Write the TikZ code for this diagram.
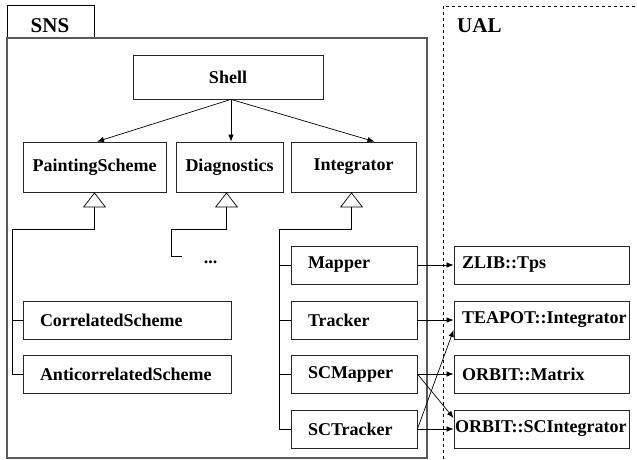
\documentclass[tikz,border=0pt]{standalone}
\usepackage{fontspec}
\setmainfont{Liberation Serif}
\usetikzlibrary{arrows.meta}
\tikzset{
  lbl/.style={font=\fontsize{18}{20}\selectfont\bfseries},
  pkg/.style={font=\fontsize{21}{24}\selectfont\bfseries, inner sep=0pt},
  cls/.style={lbl, draw=black!85, line width=0.8pt},
  sub/.style={cls, minimum height=38pt, inner ysep=0pt, inner xsep=17pt, align=left},
  ext/.style={cls, minimum height=38pt, inner ysep=0pt, inner xsep=8pt, text width=159pt, align=left},
  uses/.style={-{Latex[length=7pt,width=5.5pt]}, line width=0.7pt},
  isa/.style={-{Triangle[open,length=15pt,width=23pt]}, line width=0.7pt},
}
\begin{document}
\begin{tikzpicture}[x=1pt, y=-1pt]
  \useasboundingbox (0,0) rectangle (637,459);

  % packages
  \draw[line width=0.8pt] (7,38) |- (94,5) -- (94,38);
  \draw[line width=1.6pt, black!65] (7,38) rectangle (427,458);
  \node[pkg, anchor=base] (sns) at (50,32) {SNS};
  \draw[dashed, line width=0.7pt] (443,459) -- (443,6) -- (637,6);
  \node[pkg, anchor=base west] (ual) at (457,32) {UAL};

  % SNS classes
  \node[cls, minimum width=190pt, minimum height=44pt] (shell) at (228,77) {Shell};
  \node[cls, minimum width=143pt, minimum height=50pt] (paint) at (94.5,167) {PaintingScheme};
  \node[cls, minimum width=107pt, minimum height=50pt] (diag) at (229.5,167) {Diagnostics};
  \node[cls, minimum width=125pt, minimum height=50pt] (integ) at (353.5,167) {Integrator};

  \node[sub, text width=174pt] (corr) at (127,320) {CorrelatedScheme};
  \node[sub, text width=174pt] (anti) at (127,374) {AnticorrelatedScheme};
  \node[lbl, anchor=base] (more) at (210.5,263) {...};

  \node[sub, text width=92pt] (mapper) at (354,265) {Mapper};
  \node[sub, text width=92pt] (tracker) at (354,320) {Tracker};
  \node[sub, text width=92pt] (scmap) at (354,374) {SCMapper};
  \node[sub, text width=92pt] (sctr) at (354,429) {SCTracker};

  % UAL classes
  \node[ext] (tps) at (541.5,265) {ZLIB::Tps};
  \node[ext] (teapot) at (541.5,320) {TEAPOT::Integrator};
  \node[ext] (matrix) at (541.5,374) {ORBIT::Matrix};
  \node[ext, inner xsep=1pt, text width=173pt] (scint) at (541.5,429) {ORBIT::SCIntegrator};

  % aggregation
  \coordinate (sj) at ([xshift=3pt]shell.south);
  \draw[uses] (sj) -- ([xshift=2.5pt]paint.north);
  \draw[uses] (sj) -- ([xshift=1.5pt]diag.north);
  \draw[uses] (sj) -- ([xshift=21pt]integ.north);

  % inheritance
  \coordinate (pj) at ([yshift=-37pt]paint.south);
  \draw[isa] (pj) -- (paint.south);
  \draw (pj) -| ([xshift=-10pt]anti.west) -- (anti.west);
  \draw (corr.west) -- ++(-10,0);

  \coordinate (dj) at ([xshift=-3pt,yshift=-37pt]diag.south);
  \coordinate (dend) at (182,256);
  \draw[isa] (dj) -- ([xshift=-3pt]diag.south);
  \draw (dj) -| ([xshift=-11pt]dend) -- (dend);

  \coordinate (ij) at ([xshift=-2pt,yshift=-37pt]integ.south);
  \draw[isa] (ij) -- ([xshift=-2pt]integ.south);
  \draw (ij) -| ([xshift=-11pt]sctr.west) -- (sctr.west);
  \foreach \n in {mapper, tracker, scmap}
    \draw (\n.west) -- ++(-11,0);

  % dependencies
  \draw[uses] (mapper.east) -- (tps.west);
  \draw[uses] (tracker.east) -- (teapot.west);
  \draw[uses] (scmap.east) -- (matrix.west);
  \draw[uses] (scmap.east) -- ([yshift=11pt]scint.west);
  \draw[uses] (sctr.east) -- ([yshift=-10pt]teapot.west);
  \draw[uses] (sctr.east) -- (scint.west);
\end{tikzpicture}
\end{document}
